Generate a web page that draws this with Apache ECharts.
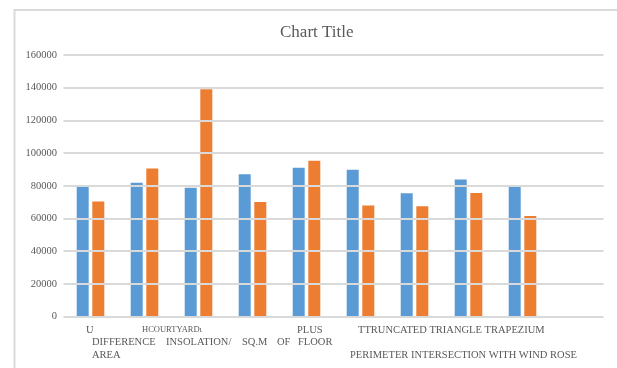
<!DOCTYPE html>
<html>
<head>
<meta charset="utf-8">
<script src="https://cdn.jsdelivr.net/npm/echarts@6/dist/echarts.min.js"></script>
<style>
  html, body { margin: 0; padding: 0; background: #ffffff; }
  #chart { width: 617px; height: 368px; }
</style>
</head>
<body>
<div id="chart"></div>
<script>
// Category groups (the tenth slot is empty in the sheet)
const categories = [
  'U', 'HCOURTYARD', 'DIFFERENCE AREA', 'INSOLATION/ SQ.M OF FLOOR', 'PLUS',
  'TTRUNCATED', 'TRIANGLE', 'TRAPEZIUM', 'PERIMETER INTERSECTION WITH WIND ROSE', ''
];

// Two value series
const seriesBlue   = [79500, 81800, 78700, 87100, 91000, 89800, 75400, 83900, 79300, null];
const seriesOrange = [70300, 90600, 139000, 70100, 95300, 67900, 67400, 75600, 61500, null];

// Value axis ticks
const yTicks = [0, 20000, 40000, 60000, 80000, 100000, 120000, 140000, 160000];

// Category label text as it is printed under the axis, row by row
const labelRow1 = ['U', 'HCOURTYARDι', 'PLUS', 'TTRUNCATED TRIANGLE TRAPEZIUM'];
const labelRow2 = ['DIFFERENCE', 'INSOLATION/', 'SQ.M', 'OF', 'FLOOR'];
const labelRow3 = ['AREA', 'PERIMETER INTERSECTION WITH WIND ROSE'];

const FONT = '"Liberation Serif", "DejaVu Serif", serif';
const TEXT_COLOR = '#595959';
const GRID_COLOR = '#d9d9d9';

// Placement of the printed label pieces (left x, middle y, font size)
const labelLayout = [
  { row: labelRow1, spots: [[86, 331, 10.5], [142, 330.5, 8.5], [297, 331, 10.5], [358, 331, 10.5]] },
  { row: labelRow2, spots: [[92, 343.5, 10.5], [166, 343.5, 10.5], [242, 343.5, 10.5], [277, 343.5, 10.5], [298, 343.5, 10.5]] },
  { row: labelRow3, spots: [[92, 356, 10.5], [350, 356, 10.5]] }
];

const labelGraphics = [];
labelLayout.forEach(({ row, spots }) => {
  row.forEach((txt, i) => {
    const [x, y, size] = spots[i];
    labelGraphics.push({
      type: 'text',
      left: x,
      top: y - size * 0.6,
      silent: true,
      style: { text: txt, fill: TEXT_COLOR, font: size + 'px ' + FONT }
    });
  });
});

const chart = echarts.init(document.getElementById('chart'), null, { renderer: 'canvas' });

chart.setOption({
  animation: false,
  backgroundColor: '#ffffff',
  title: {
    text: 'Chart Title',
    left: 275,
    top: 19,
    textStyle: { fontFamily: FONT, fontSize: 17, fontWeight: 'normal', color: TEXT_COLOR }
  },
  grid: { left: 63.5, right: 13.5, top: 55, bottom: 51.5, containLabel: false },
  xAxis: {
    type: 'category',
    data: categories,
    boundaryGap: true,
    axisLine: { show: false },
    axisTick: { show: false },
    axisLabel: { show: false },
    splitLine: { show: false }
  },
  yAxis: {
    type: 'value',
    min: yTicks[0],
    max: yTicks[yTicks.length - 1],
    interval: yTicks[1] - yTicks[0],
    z: 5,
    axisLine: { show: false },
    axisTick: { show: false },
    axisLabel: {
      margin: 6.5,
      color: TEXT_COLOR,
      fontFamily: FONT,
      fontSize: 10.5,
      formatter: (v) => String(v)
    },
    splitLine: { show: true, lineStyle: { color: GRID_COLOR, width: 2 } }
  },
  series: [
    {
      type: 'bar',
      name: 'Series 1',
      data: seriesBlue,
      barWidth: 12,
      barGap: '30%',
      itemStyle: { color: '#5b9bd5' },
      z: 2
    },
    {
      type: 'bar',
      name: 'Series 2',
      data: seriesOrange,
      barWidth: 12,
      barGap: '30%',
      itemStyle: { color: '#ed7d31' },
      z: 2
    }
  ],
  graphic: [
    {
      type: 'rect',
      silent: true,
      z: -10,
      shape: { x: 14.5, y: 10, width: 700, height: 500 },
      style: { fill: 'none', stroke: GRID_COLOR, lineWidth: 2 }
    }
  ].concat(labelGraphics)
});
</script>
</body>
</html>
